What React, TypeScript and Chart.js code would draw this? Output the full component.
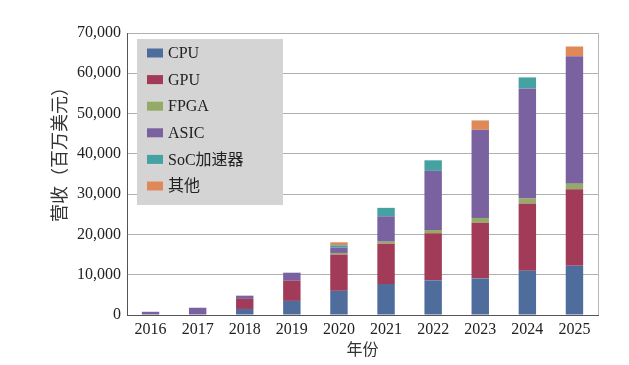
import React, { useEffect, useRef } from "react";
import { Chart, registerables } from "chart.js";

Chart.register(...registerables);

const years = ["2016", "2017", "2018", "2019", "2020", "2021", "2022", "2023", "2024", "2025"];
const cpu = [0, 0, 1500, 3500, 6000, 7700, 8600, 9100, 11000, 12200];
const gpu = [0, 0, 2500, 5000, 9000, 10000, 11700, 13800, 16700, 19000];
const fpga = [0, 0, 0, 0, 400, 500, 800, 1200, 1240, 1400];
const asic = [800, 1800, 800, 2000, 1300, 6300, 14700, 21900, 27300, 31650];
const soc = [0, 0, 0, 0, 600, 2100, 2600, 0, 2730, 0];
const other = [0, 0, 0, 0, 750, 0, 0, 2300, 0, 2400];
const seriesNames = ["CPU", "GPU", "FPGA", "ASIC", "SoC加速器", "其他"];
const seriesColors = ["#4e6d9c", "#a23b57", "#93ab67", "#7a62a0", "#45a2a2", "#de8957"];
const yTitle = "营收（百万美元）";
const xTitle = "年份";

const FONT_LATIN = "'Liberation Serif', 'Noto Sans CJK SC', serif";

const customPlugin = {
  id: "custom",
  afterDraw(chart: any) {
    const ctx = chart.ctx;
    const area = chart.chartArea;
    ctx.save();
    // right border
    ctx.strokeStyle = "#b8b8b8";
    ctx.lineWidth = 1;
    ctx.beginPath();
    ctx.moveTo(Math.round(area.right) + 0.5, area.top);
    ctx.lineTo(Math.round(area.right) + 0.5, area.bottom);
    ctx.stroke();
    // legend
    const lx = area.left + 10;
    const ly = area.top + 6;
    ctx.fillStyle = "#d4d4d4";
    ctx.fillRect(lx, ly, 146, 166);
    ctx.font = "16px " + FONT_LATIN;
    ctx.textBaseline = "middle";
    ctx.textAlign = "left";
    chart.data.datasets.forEach((ds: any, i: number) => {
      const cy = ly + 14 + i * 26.6;
      ctx.fillStyle = ds.backgroundColor;
      ctx.fillRect(lx + 10, cy - 4.5, 16, 9);
      ctx.fillStyle = "#222";
      ctx.fillText(ds.label, lx + 31, cy + 1);
    });
    // y title
    ctx.save();
    ctx.translate(59, 150);
    ctx.rotate(-Math.PI / 2);
    ctx.textAlign = "center";
    ctx.textBaseline = "middle";
    ctx.font = "18px 'Noto Sans CJK SC', sans-serif";
    ctx.fillStyle = "#333";
    ctx.fillText(yTitle, 0, 0);
    ctx.restore();
    // x title
    ctx.textAlign = "center";
    ctx.textBaseline = "middle";
    ctx.font = "16px 'Noto Sans CJK SC', sans-serif";
    ctx.fillStyle = "#333";
    ctx.fillText(xTitle, (area.left + area.right) / 2, 349);
    ctx.restore();
  },
};

export default function App() {
  const ref = useRef<HTMLCanvasElement>(null);
  useEffect(() => {
    const values = [cpu, gpu, fpga, asic, soc, other];
    const chart = new Chart(ref.current!, {
      type: "bar",
      data: {
        labels: years,
        datasets: values.map((v, i) => ({
          label: seriesNames[i],
          data: v,
          backgroundColor: seriesColors[i],
          borderWidth: 0,
          categoryPercentage: 1,
          barPercentage: 0.37,
        })),
      },
      options: {
        animation: false,
        responsive: false,
        maintainAspectRatio: false,
        layout: { padding: { top: 33, right: 31, left: 0, bottom: 0 } },
        plugins: { legend: { display: false }, tooltip: { enabled: false } },
        scales: {
          x: {
            stacked: true,
            grid: { display: false, drawTicks: false },
            border: { color: "#555", width: 1 },
            ticks: { color: "#222", font: { family: FONT_LATIN, size: 16 }, padding: 5, maxRotation: 0 },
            afterFit: (s: any) => { s.height = 50; },
          },
          y: {
            stacked: true,
            min: 0,
            max: 70000,
            grid: { color: "#b0b0b0", drawTicks: false },
            border: { color: "#555", width: 1 },
            ticks: { stepSize: 10000, color: "#222", font: { family: FONT_LATIN, size: 16 }, padding: 6 },
            afterFit: (s: any) => { s.width = 127; },
          },
        },
      },
      plugins: [customPlugin],
    });
    return () => chart.destroy();
  }, []);
  return (
    <div style={{ position: "absolute", left: 0, top: 0, width: 629, height: 365, background: "#fff" }}>
      <canvas ref={ref} width={629} height={365} style={{ width: 629, height: 365 }} />
    </div>
  );
}
